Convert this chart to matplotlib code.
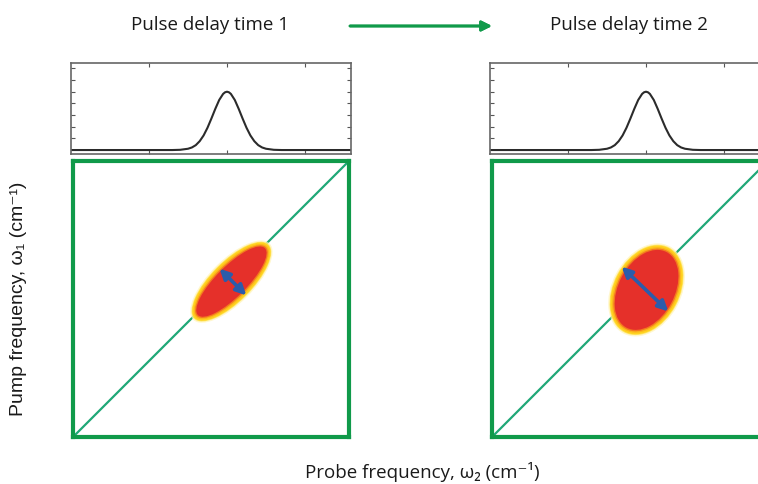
import matplotlib
matplotlib.use("Agg")
import matplotlib.pyplot as plt
from matplotlib.patches import Ellipse

# Данные: импульс (верхние панели)
pulse_t = [0.0, 1.3, 1.4, 1.5, 1.55, 1.6, 1.65, 1.7, 1.75, 1.8, 1.85, 1.9, 1.95, 1.975,
           2.0, 2.025, 2.05, 2.1, 2.15, 2.2, 2.25, 2.3, 2.35, 2.4, 2.45, 2.5, 2.6, 2.7, 3.6]
pulse_amp = [0.0, 0.0, 0.002, 0.011, 0.022, 0.042, 0.076, 0.125, 0.191, 0.270, 0.353,
             0.429, 0.481, 0.495, 0.5, 0.495, 0.481, 0.429, 0.353, 0.270, 0.191, 0.125,
             0.076, 0.042, 0.022, 0.011, 0.002, 0.0, 0.0]

# Данные: 2D-спектр (центр, большая/малая ось, угол) для двух задержек
panel_titles = ["Pulse delay time 1", "Pulse delay time 2"]
peak_x = [0.574, 0.560]
peak_y = [0.563, 0.533]
peak_major = [0.375, 0.342]
peak_minor = [0.142, 0.235]
peak_angle = [45, 62]
# стрелка (начало/конец)
arrow_start = [(0.531, 0.610), (0.470, 0.617)]
arrow_end = [(0.628, 0.513), (0.639, 0.455)]

W, H = 758, 484
fig = plt.figure(figsize=(W / 100, H / 100), dpi=100)

green = "#109a4a"
diag_green = "#1fa877"
blue = "#2b5cab"

fonts_t = ["Open Sans", "DejaVu Sans"]
fonts_y = ["Liberation Sans", "DejaVu Sans"]

panel_left = [71, 490]
for i in range(2):
    x0 = panel_left[i]
    # верхняя панель с импульсом
    ax_top = fig.add_axes([x0 / W, (H - 154) / H, 280 / W, 91 / H])
    ax_top.plot(pulse_t, pulse_amp, color="#2b2b2b", lw=1.5)
    ax_top.set_xlim(0, 280 / 78)
    ax_top.set_ylim(-0.034, 0.746)
    ax_top.set_xticks([1, 2, 3])
    ax_top.set_yticks([0.1, 0.2, 0.3, 0.4, 0.5, 0.6, 0.7])
    ax_top.tick_params(direction="in", length=3, width=0.8, color="#555555",
                       top=True, right=True, labelbottom=False, labelleft=False)
    for s in ax_top.spines.values():
        s.set_color("#666666")
        s.set_linewidth(1.2)

    # основная квадратная панель
    ax = fig.add_axes([(x0 + 2) / W, (H - 437) / H, 276 / W, 276 / H])
    ax.set_xlim(0, 1)
    ax.set_ylim(0, 1)
    ax.set_xticks([])
    ax.set_yticks([])
    for s in ax.spines.values():
        s.set_color(green)
        s.set_linewidth(3.0)
    ax.plot([0, 1], [0, 1], color=diag_green, lw=1.6, zorder=1)

    cx, cy = peak_x[i], peak_y[i]
    a, b, ang = peak_major[i], peak_minor[i], peak_angle[i]
    # размытый край: слои от светло-жёлтого к красному
    layers = [(0.016, "#fff4b8", 0.7), (0.006, "#ffe45a", 0.9), (0.0, "#ffd21e", 1.0),
              (-0.012, "#fbb51c", 1.0), (-0.022, "#f3781f", 1.0), (-0.032, "#e5302a", 1.0)]
    for d, col, al in layers:
        ax.add_patch(Ellipse((cx, cy), a + d, b + d, angle=ang,
                             facecolor=col, edgecolor="none", alpha=al, zorder=2))
    ax.annotate("", xy=arrow_end[i], xytext=arrow_start[i],
                arrowprops=dict(arrowstyle="<|-|>", color=blue, lw=2.6,
                                mutation_scale=15, shrinkA=0, shrinkB=0),
                zorder=3)

    fig.text((x0 + 139) / W, 1 - 25 / H, panel_titles[i], ha="center", va="center",
             fontsize=13.5, family=fonts_t, color="#1a1a1a")

# стрелка между заголовками
fig.add_artist(plt.annotate("", xy=(492 / W, 1 - 26 / H), xytext=(350 / W, 1 - 26 / H),
                            xycoords="figure fraction", textcoords="figure fraction",
                            arrowprops=dict(arrowstyle="-|>", color=green, lw=2,
                                            mutation_scale=15, shrinkA=0, shrinkB=0)))

fig.text(422 / W, 1 - 472 / H, "Probe frequency, \u03c9\u2082 (cm\u207b\u00b9)",
         ha="center", va="center", fontsize=13.5, family=fonts_t, color="#1a1a1a")
fig.text(19 / W, 1 - 299 / H, "Pump frequency, \u03c9\u2081 (cm\u207b\u00b9)",
         ha="center", va="center", rotation=90, fontsize=14, family=fonts_y,
         color="#1a1a1a")

fig.savefig("out.png", dpi=100)
